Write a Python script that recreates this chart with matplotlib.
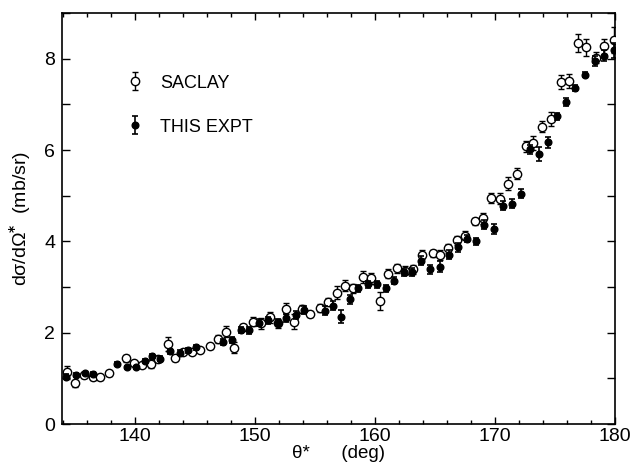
import numpy as np
import matplotlib
matplotlib.use("Agg")
import matplotlib.pyplot as plt
from matplotlib.ticker import MultipleLocator

plt.rcParams['font.family'] = ['Liberation Sans', 'DejaVu Sans']

# SACLAY (open circles)
saclay_theta = [134.3, 135.0, 135.7, 136.5, 137.1, 137.8, 139.2, 139.9, 140.6, 141.3,
                141.9, 142.7, 143.3, 144.0, 144.7, 145.4, 146.2, 146.9, 147.6, 148.2,
                149.0, 149.8, 150.5, 151.2, 151.9, 152.6, 153.2, 153.9, 154.6, 155.4,
                156.1, 156.8, 157.5, 158.2, 159.0, 159.7, 160.4, 161.1, 161.8, 162.5,
                163.2, 163.9, 164.8, 165.4, 166.1, 166.8, 167.5, 168.3, 169.0, 169.7,
                170.4, 171.1, 171.8, 172.6, 173.2, 173.9, 174.7, 175.5, 176.2, 176.9,
                177.6, 178.4, 179.1, 179.9]
saclay_xs = [1.13, 0.89, 1.07, 1.02, 1.02, 1.11, 1.44, 1.34, 1.29, 1.31,
             1.43, 1.75, 1.44, 1.58, 1.58, 1.62, 1.70, 1.86, 2.02, 1.67,
             2.12, 2.24, 2.21, 2.34, 2.21, 2.52, 2.24, 2.52, 2.41, 2.54,
             2.68, 2.88, 3.03, 2.97, 3.22, 3.19, 2.70, 3.29, 3.41, 3.36,
             3.39, 3.71, 3.74, 3.70, 3.85, 4.02, 4.12, 4.44, 4.51, 4.95,
             4.93, 5.26, 5.48, 6.08, 6.16, 6.51, 6.68, 7.49, 7.51, 8.35,
             8.25, 8.02, 8.27, 8.41]
saclay_err = [0.15, 0.08, 0.06, 0.05, 0.05, 0.05, 0.08, 0.05, 0.05, 0.08,
              0.06, 0.15, 0.06, 0.05, 0.05, 0.05, 0.06, 0.08, 0.12, 0.12,
              0.08, 0.10, 0.12, 0.12, 0.10, 0.12, 0.16, 0.08, 0.06, 0.08,
              0.08, 0.15, 0.12, 0.10, 0.14, 0.12, 0.20, 0.10, 0.10, 0.10,
              0.10, 0.10, 0.08, 0.10, 0.10, 0.10, 0.10, 0.08, 0.12, 0.10,
              0.12, 0.14, 0.12, 0.12, 0.15, 0.12, 0.15, 0.15, 0.16, 0.20,
              0.18, 0.12, 0.16, 0.28]

# THIS EXPT (filled dots)
expt_theta = [134.2, 135.1, 135.8, 136.5, 138.5, 139.3, 140.1, 140.8, 141.4, 142.1,
              142.9, 143.7, 144.4, 145.1, 147.3, 148.1, 148.8, 149.5, 150.3, 151.1,
              151.9, 152.6, 153.4, 154.1, 155.8, 156.5, 157.2, 157.9, 158.6, 159.4,
              160.2, 160.9, 161.6, 162.4, 163.1, 163.8, 164.6, 165.4, 166.2, 166.9,
              167.7, 168.4, 169.1, 169.9, 170.7, 171.4, 172.2, 172.9, 173.7, 174.4,
              175.2, 175.9, 176.7, 177.5, 178.3, 179.1, 179.9]
expt_xs = [1.04, 1.07, 1.11, 1.10, 1.32, 1.24, 1.24, 1.38, 1.48, 1.43,
           1.59, 1.56, 1.61, 1.68, 1.80, 1.84, 2.06, 2.05, 2.22, 2.27,
           2.22, 2.32, 2.39, 2.50, 2.48, 2.59, 2.35, 2.73, 2.97, 3.06,
           3.06, 2.97, 3.14, 3.32, 3.33, 3.58, 3.39, 3.44, 3.71, 3.87,
           4.06, 4.00, 4.36, 4.27, 4.78, 4.82, 5.04, 6.02, 5.91, 6.17,
           6.74, 7.05, 7.36, 7.65, 7.95, 8.07, 8.18]
expt_err = [0.05, 0.04, 0.04, 0.04, 0.04, 0.04, 0.04, 0.05, 0.05, 0.05,
            0.05, 0.05, 0.05, 0.05, 0.07, 0.07, 0.07, 0.07, 0.08, 0.08,
            0.08, 0.08, 0.08, 0.08, 0.10, 0.10, 0.14, 0.10, 0.08, 0.08,
            0.08, 0.08, 0.08, 0.08, 0.08, 0.10, 0.10, 0.12, 0.10, 0.10,
            0.08, 0.08, 0.10, 0.10, 0.10, 0.10, 0.10, 0.10, 0.16, 0.12,
            0.08, 0.08, 0.06, 0.06, 0.10, 0.12, 0.16]

fig = plt.figure(figsize=(6.31, 4.66), dpi=100)
ax = fig.add_axes([0.0983, 0.0901, 0.8763, 0.8819])

sac = ax.errorbar(saclay_theta, saclay_xs, yerr=saclay_err, fmt='o', ms=6,
                  mfc='white', mec='black', mew=1.0, ecolor='black',
                  elinewidth=1.0, capsize=2.5, capthick=1.0, label='SACLAY', zorder=3)
exp = ax.errorbar(expt_theta, expt_xs, yerr=expt_err, fmt='o', ms=4.8,
                  mfc='black', mec='black', ecolor='black',
                  elinewidth=1.2, capsize=2.5, capthick=1.2, label='THIS EXPT', zorder=4)

ax.set_xlim(133.9, 180)
ax.set_ylim(0, 9)
ax.xaxis.set_major_locator(MultipleLocator(10))
ax.xaxis.set_minor_locator(MultipleLocator(2))
ax.yaxis.set_major_locator(MultipleLocator(2))
ax.yaxis.set_minor_locator(MultipleLocator(1))
ax.tick_params(which='both', direction='in', top=True, right=True, width=1.0,
               labelsize=14, pad=5)
ax.tick_params(axis='x', which='both', pad=3)
ax.tick_params(axis='y', which='both', length=6)
ax.tick_params(axis='x', which='major', length=5)
ax.tick_params(axis='x', which='minor', length=3)
for s in ax.spines.values():
    s.set_linewidth(1.2)

ax.set_ylabel('dσ/dΩ$^{\\mathbf{*}}$  (mb/sr)', fontsize=14, labelpad=8)
ax.set_xlabel('θ*      (deg)', fontsize=13.5, labelpad=0)

ax.legend(handles=[sac, exp], loc='upper left', bbox_to_anchor=(0.115, 0.85),
          frameon=False, fontsize=13, handlelength=1.0, handletextpad=0.9,
          labelspacing=1.5, borderpad=0, borderaxespad=0)

fig.savefig('out.png', dpi=100)
